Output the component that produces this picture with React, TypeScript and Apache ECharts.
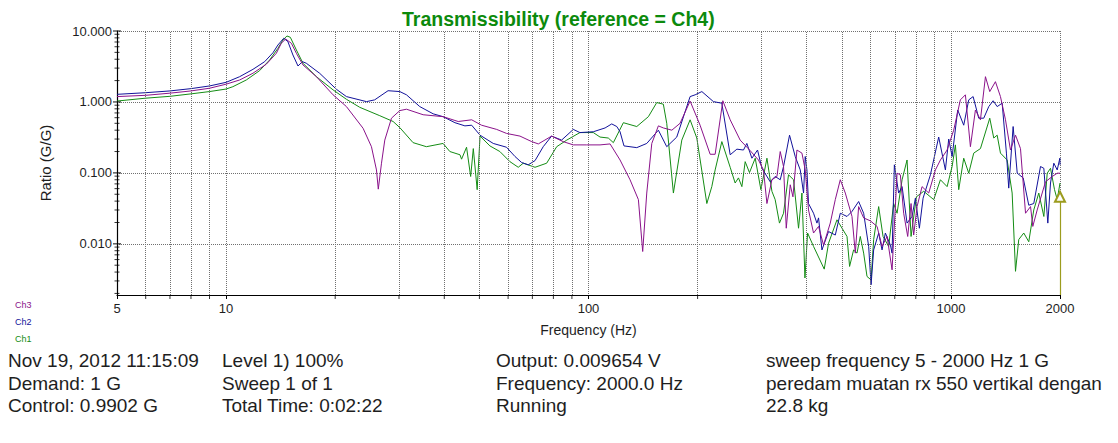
import React, { useEffect, useRef } from "react";
import * as echarts from "echarts";

// ---- data: [frequency Hz, ratio G/G] ----
const ch3Data: [number, number][] = [
  [5, 1.19], [6, 1.24], [7, 1.33], [8, 1.43], [9, 1.56], [10, 1.78], [10.9, 2.04], [11.86, 2.54], [12.91, 3.4], [13.76, 4.85],
  [14.2, 6.71], [14.6, 7.71], [15.14, 6.71], [15.63, 4.85], [16.3, 3.32], [17.75, 2.27], [19.73, 1.26], [21.48, 0.86], [23.88, 0.425],
  [25.18, 0.234], [26.0, 0.11], [26.3, 0.059], [26.84, 0.137], [27.41, 0.29], [28.6, 0.59], [30.15, 0.755], [31.46, 0.79], [34.97, 0.66],
  [39.7, 0.62], [43.7, 0.53], [47.6, 0.56], [50.7, 0.47], [55.8, 0.41], [59.4, 0.36], [64.7, 0.33], [69.7, 0.276], [72.7, 0.256],
  [79.1, 0.33], [85.1, 0.276], [90.8, 0.248], [98.9, 0.248], [107.6, 0.248], [114.7, 0.256], [122.2, 0.152], [130.2, 0.08],
  [137.3, 0.042], [141.1, 0.0078], [144.8, 0.052], [149.5, 0.26], [155.9, 0.46], [160.9, 0.43], [169.8, 0.4], [178.9, 0.5],
  [190.7, 1.03], [203.2, 0.47], [216.6, 0.183], [223.6, 0.183], [234.8, 1.04], [246, 0.56], [262.1, 0.29], [279.3, 0.206],
  [294.4, 0.152], [304, 0.11], [310.7, 0.037], [320.7, 0.08], [331.1, 0.089], [338.1, 0.2], [345.3, 0.123], [351.3, 0.0166],
  [360.3, 0.068], [366.5, 0.046], [376, 0.21], [388.1, 0.19], [396.3, 0.11], [404.7, 0.03], [417.8, 0.0142], [431.3, 0.0176],
  [445.2, 0.0096], [464.6, 0.0196], [479.7, 0.042], [495.2, 0.08], [511.2, 0.052], [533.4, 0.0243], [544.8, 0.0074], [556.4, 0.0335],
  [574.4, 0.0232], [599.3, 0.0211], [625.5, 0.0176], [645.7, 0.0092], [666.6, 0.0127], [688.1, 0.0043], [710.3, 0.099], [725.3, 0.094],
  [740.7, 0.027], [760, 0.0127], [776.4, 0.037], [789.4, 0.0133], [806.6, 0.0335], [832.5, 0.064], [868.5, 0.052], [906.3, 0.11],
  [935.5, 0.152], [976.1, 0.21], [1017.9, 0.4], [1062, 1.07], [1096.5, 1.26], [1132, 0.234], [1168.6, 0.77], [1206.4, 0.56],
  [1245.4, 2.27], [1280, 1.4], [1327, 1.93], [1370, 1.19], [1414.5, 0.56], [1460, 0.21], [1507.5, 0.34], [1556, 0.22],
  [1606.7, 0.027], [1658.5, 0.0335], [1682.7, 0.0176], [1730, 0.03], [1824, 0.075], [1904, 0.089], [1965, 0.099], [2000, 0.099],
];

const ch2Data: [number, number][] = [
  [5, 1.28], [6, 1.35], [7, 1.43], [8, 1.54], [9, 1.68], [10, 1.89], [10.9, 2.27], [11.86, 2.88], [12.78, 3.7], [13.47, 4.94],
  [13.9, 6.35], [14.42, 7.9], [14.81, 7.08], [15.29, 4.59], [15.79, 3.21], [16.24, 3.7], [16.65, 3.51], [18.13, 2.53], [20.15, 1.51],
  [21.48, 1.19], [24.4, 1.01], [25.7, 1.07], [27.98, 1.44], [30.15, 1.4], [31.46, 1.26], [34.23, 0.86], [37.27, 0.68], [39.7, 0.62],
  [42.8, 0.51], [45.6, 0.46], [47.6, 0.47], [50.2, 0.34], [54.6, 0.26], [59.4, 0.23], [62.7, 0.17], [65.4, 0.14], [68.2, 0.13],
  [71.2, 0.149], [75.0, 0.234], [79.1, 0.33], [84.3, 0.29], [90.8, 0.41], [94.7, 0.37], [103.1, 0.38], [111.1, 0.43], [115.9, 0.49],
  [119.7, 0.45], [122.2, 0.38], [125.3, 0.24], [135.9, 0.227], [144.8, 0.26], [155.9, 0.4], [164.4, 0.234], [175.2, 0.32],
  [190.7, 1.19], [196.9, 1.26], [205.5, 1.4], [221.2, 1.01], [233.3, 0.96], [246, 0.18], [256.7, 0.216], [267.7, 0.21],
  [273.5, 0.26], [282.4, 0.161], [292.7, 0.21], [301, 0.116], [317.2, 0.075], [327.4, 0.089], [338.1, 0.08], [345.3, 0.123],
  [358.7, 0.34], [371.9, 0.17], [384, 0.11], [392.1, 0.052], [396.3, 0.17], [400.6, 0.11], [404.7, 0.037], [417.8, 0.027],
  [426.9, 0.0196], [431.3, 0.0232], [440.7, 0.0082], [459.6, 0.0149], [479.7, 0.0133], [495.2, 0.027], [516.8, 0.0243],
  [533.4, 0.0286], [556.4, 0.0395], [574.4, 0.027], [593, 0.0092], [602.2, 0.00265], [612.1, 0.0082], [631.9, 0.0142],
  [645.7, 0.0082], [659.4, 0.0142], [680.8, 0.0096], [688.1, 0.0074], [698.2, 0.13], [717.5, 0.052], [733.3, 0.064],
  [756.8, 0.0196], [781.3, 0.0243], [798, 0.044], [818.5, 0.0166], [838, 0.044], [877.9, 0.094], [925.4, 0.32], [965.6, 0.11],
  [986.3, 0.3], [1007.7, 0.17], [1044.2, 0.77], [1084.9, 0.47], [1120, 1.07], [1151.7, 1.19], [1193.5, 0.59], [1232, 0.59],
  [1272, 0.86], [1308, 1.04], [1341.7, 0.86], [1385, 0.96], [1423, 0.19], [1444, 0.061], [1485, 0.45], [1524, 0.099],
  [1583, 0.085], [1640, 0.035], [1693, 0.037], [1767, 0.123], [1805, 0.116], [1851, 0.0196], [1883, 0.072], [1923, 0.137],
  [1965, 0.11], [1998, 0.161], [2000, 0.13],
];

const ch1Data: [number, number][] = [
  [5, 1.03], [6, 1.13], [7, 1.2], [8, 1.3], [9, 1.4], [10, 1.52], [10.44, 1.64], [11.37, 2.04], [12.37, 2.76], [13.19, 3.91],
  [13.9, 5.7], [14.35, 7.47], [14.72, 8.51], [15.04, 8.15], [15.63, 5.4], [16.3, 3.51], [17.75, 2.27], [19.73, 1.48], [21.48, 1.09],
  [23.38, 0.84], [26.55, 0.64], [28.9, 0.53], [30.15, 0.435], [32.8, 0.267], [35.7, 0.234], [39.7, 0.26], [41.44, 0.2], [44.2, 0.18],
  [44.64, 0.156], [46.08, 0.23], [47.3, 0.089], [48.1, 0.22], [49.3, 0.058], [50.2, 0.33], [53.45, 0.24], [56.95, 0.2],
  [60.7, 0.144], [64.0, 0.12], [66.05, 0.137], [71.2, 0.12], [76.66, 0.137], [81.7, 0.234], [87.1, 0.29], [94.7, 0.37],
  [103.1, 0.37], [107.6, 0.32], [113.4, 0.31], [117.1, 0.267], [124.8, 0.51], [135.9, 0.45], [146.3, 0.62], [154.3, 0.98],
  [160.9, 0.93], [164.4, 0.5], [171.5, 0.052], [180.9, 0.29], [190.7, 0.56], [199, 0.31], [212.1, 0.037], [218.9, 0.064],
  [223.6, 0.11], [233.3, 0.276], [246, 0.12], [253.9, 0.072], [259.3, 0.085], [265, 0.064], [270.6, 0.144], [278.1, 0.101],
  [288.4, 0.161], [299, 0.058], [310.7, 0.161], [320.7, 0.055], [327.4, 0.042], [336.5, 0.0196], [345.3, 0.027], [356.4, 0.094],
  [368, 0.08], [379.8, 0.0166], [388.1, 0.052], [395.6, 0.0033], [402.3, 0.0142], [417.8, 0.0092], [447.2, 0.0044],
  [459.6, 0.0102], [484.9, 0.0218], [516.8, 0.0127], [525.3, 0.0048], [538.9, 0.0082], [550.7, 0.0074], [562.3, 0.0127],
  [574.4, 0.0074], [586.8, 0.00347], [602.2, 0.0031], [612.1, 0.0115], [631.9, 0.0335], [649.8, 0.0127], [673.4, 0.0092],
  [695, 0.037], [710.3, 0.027], [733.3, 0.08], [756.8, 0.152], [776.4, 0.0127], [803.1, 0.046], [841.3, 0.055], [896.6, 0.042],
  [935.5, 0.08], [976.1, 0.064], [1007.7, 0.123], [1029, 0.248], [1051, 0.058], [1084.9, 0.161], [1120, 0.099], [1156, 0.19],
  [1206.4, 0.22], [1280, 0.59], [1313, 0.31], [1341.7, 0.34], [1370, 0.19], [1429.6, 0.152], [1475.7, 0.052], [1507.5, 0.0041],
  [1539, 0.0115], [1588.8, 0.0142], [1640, 0.0107], [1693, 0.03], [1747.9, 0.052], [1805, 0.0243], [1844, 0.099], [1883, 0.116],
  [1931.6, 0.058], [1965, 0.042], [2000, 0.072],
];

const xMinorGrid = [6, 7, 8, 9, 20, 30, 40, 50, 60, 70, 80, 90, 200, 300, 400, 500, 600, 700, 800, 900];
const yMajorTicks = [0.01, 0.1, 1, 10];
const yMinorTicks = [
  0.002, 0.003, 0.004, 0.005, 0.006, 0.007, 0.008, 0.009,
  0.02, 0.03, 0.04, 0.05, 0.06, 0.07, 0.08, 0.09,
  0.2, 0.3, 0.4, 0.5, 0.6, 0.7, 0.8, 0.9,
  2, 3, 4, 5, 6, 7, 8, 9,
];
const X_MIN = 5;
const X_MAX = 2000;
const Y_MIN = 0.0019;
const Y_MAX = 10;
const cursorFreq = 2000;
const cursorRatio = 0.046;

const infoColumns: string[][] = [
  ["Nov 19, 2012 11:15:09", "Demand: 1 G", "Control: 0.9902 G"],
  ["Level 1) 100%", "Sweep 1 of 1", "Total Time: 0:02:22"],
  ["Output: 0.009654 V", "Frequency: 2000.0 Hz", "Running"],
  ["sweep frequency 5 - 2000 Hz 1 G", "peredam muatan rx 550 vertikal dengan", "22.8 kg"],
];

const FONT = "'Liberation Sans', Arial, Helvetica, sans-serif";
const PURPLE = "#8a128a";
const BLUE = "#12129a";
const GREEN = "#148c14";
const GRID = "#707070";

export default function App() {
  const ref = useRef<HTMLDivElement>(null);

  useEffect(() => {
    if (!ref.current) return;
    const chart = echarts.init(ref.current, undefined, { renderer: "svg" });

    const colX = [8, 222, 496, 766];
    const rowY = [351, 374, 396];
    const graphics: any[] = [];
    infoColumns.forEach((col, ci) => {
      col.forEach((txt, ri) => {
        graphics.push({
          type: "text",
          left: colX[ci],
          top: rowY[ri],
          silent: true,
          style: { text: txt, font: `19px ${FONT}`, fill: "#1e1e1e" },
        });
      });
    });

    const option: any = {
      animation: false,
      backgroundColor: "#ffffff",
      title: {
        text: "Transmissibility (reference = Ch4)",
        left: 397,
        top: 4,
        textStyle: { color: "#0c8a0c", fontSize: 19.5, fontWeight: "bold", fontFamily: FONT },
      },
      legend: {
        orient: "vertical",
        left: 5,
        top: 295,
        icon: "none",
        itemWidth: 0,
        itemHeight: 10,
        itemGap: 7.5,
        selectedMode: false,
        textStyle: { fontSize: 9, fontFamily: FONT },
        data: [
          { name: "Ch3", textStyle: { color: PURPLE } },
          { name: "Ch2", textStyle: { color: BLUE } },
          { name: "Ch1", textStyle: { color: GREEN } },
        ],
      },
      grid: { left: 117, top: 31, right: 58, bottom: 148 },
      xAxis: {
        type: "log",
        logBase: 10,
        min: X_MIN,
        max: X_MAX,
        name: "Frequency (Hz)",
        nameLocation: "middle",
        nameGap: 28,
        nameTextStyle: { fontSize: 14, color: "#1e1e1e", fontFamily: FONT },
        axisLine: { show: true, onZero: false, lineStyle: { color: "#000", width: 1.2 } },
        axisTick: { show: true, length: 4, lineStyle: { color: "#000" } },
        axisLabel: {
          margin: 7,
          fontSize: 13,
          color: "#1e1e1e",
          fontFamily: FONT,
          showMinLabel: true,
          showMaxLabel: true,
          formatter: (v: number) => String(Math.round(v)),
        },
        splitLine: { show: true, lineStyle: { color: GRID, type: [1, 1], width: 1 } },
      },
      yAxis: {
        type: "log",
        logBase: 10,
        min: Y_MIN,
        max: Y_MAX,
        name: "Ratio (G/G)",
        nameLocation: "middle",
        nameGap: 64,
        nameTextStyle: { fontSize: 15, color: "#1e1e1e", fontFamily: FONT },
        axisLine: { show: true, lineStyle: { color: "#000", width: 1.2 } },
        axisTick: { show: false },
        axisLabel: {
          margin: 5,
          fontSize: 13,
          color: "#1e1e1e",
          fontFamily: FONT,
          formatter: (v: number) => {
            const l = Math.log10(v);
            return Math.abs(l - Math.round(l)) < 1e-6 ? v.toFixed(3) : "";
          },
        },
        splitLine: { show: true, lineStyle: { color: GRID, type: [1, 1], width: 1 } },
      },
      series: [
        {
          name: "Ch1",
          type: "line",
          data: ch1Data,
          showSymbol: false,
          symbol: "none",
          color: GREEN,
          lineStyle: { width: 1, color: GREEN },
          z: 3,
          markLine: {
            silent: true,
            symbol: ["none", "emptyTriangle"],
            symbolSize: 10,
            label: { show: false },
            lineStyle: { color: "#9c9c1e", type: "solid", width: 1.2 },
            data: [[{ coord: [cursorFreq, Y_MIN] }, { coord: [cursorFreq, cursorRatio] }]],
          },
        },
        {
          name: "Ch2",
          type: "line",
          data: ch2Data,
          showSymbol: false,
          symbol: "none",
          color: BLUE,
          lineStyle: { width: 1, color: BLUE },
          z: 4,
        },
        {
          name: "Ch3",
          type: "line",
          data: ch3Data,
          showSymbol: false,
          symbol: "none",
          color: PURPLE,
          lineStyle: { width: 1, color: PURPLE },
          z: 5,
        },
        {
          name: "xMinorTicks",
          type: "scatter",
          silent: true,
          clip: false,
          symbol: "rect",
          symbolSize: [1, 4],
          symbolOffset: [0, 2],
          itemStyle: { color: "#000" },
          data: xMinorGrid.map((f) => [f, Y_MIN]),
          z: 6,
          markLine: {
            silent: true,
            symbol: ["none", "none"],
            label: { show: false },
            lineStyle: { color: GRID, type: [1, 1], width: 1 },
            data: xMinorGrid.map((f) => ({ xAxis: f })),
          },
        },
        {
          name: "yMinorTicks",
          type: "scatter",
          silent: true,
          clip: false,
          symbol: "rect",
          symbolSize: [5, 1],
          itemStyle: { color: "#000" },
          data: yMinorTicks.map((v) => [X_MIN, v]),
          z: 6,
        },
        {
          name: "yMajorTicks",
          type: "scatter",
          silent: true,
          clip: false,
          symbol: "rect",
          symbolSize: [8, 1.2],
          itemStyle: { color: "#000" },
          data: yMajorTicks.map((v) => [X_MIN, v]),
          z: 6,
        },
      ],
      graphic: graphics,
    };

    chart.setOption(option);
    return () => chart.dispose();
  }, []);

  return (
    <div
      ref={ref}
      style={{ position: "absolute", left: 0, top: 0, width: 1118, height: 443, background: "#fff" }}
    />
  );
}
